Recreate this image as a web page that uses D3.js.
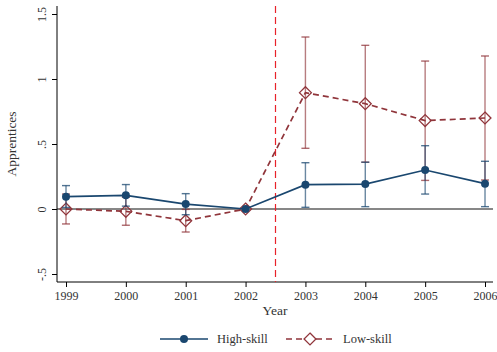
<!DOCTYPE html>
<html lang="en">
<head>
<meta charset="UTF-8">
<title>Apprentices</title>
<script src="https://d3js.org/d3.v7.min.js"></script>
<style>
    body { margin: 0; background: #fff; }
    text { font-family: "Liberation Serif", "DejaVu Serif", serif; fill: #333; }
</style>
</head>
<body>
<div id="chart"></div>
<script>
// data
const years = [1999, 2000, 2001, 2002, 2003, 2004, 2005, 2006];
const highVal = [0.095, 0.105, 0.038, 0, 0.187, 0.192, 0.30, 0.195];
const highLo  = [0.012, 0.022, -0.044, 0, 0.013, 0.018, 0.115, 0.018];
const highHi  = [0.180, 0.188, 0.118, 0, 0.356, 0.360, 0.487, 0.367];
const lowVal  = [0, -0.018, -0.09, 0, 0.895, 0.81, 0.68, 0.70];
const lowLo   = [-0.115, -0.125, -0.177, 0, 0.467, 0.36, 0.22, 0.223];
const lowHi   = [0.115, 0.09, -0.003, 0, 1.323, 1.259, 1.138, 1.177];
const yTicks = [-0.5, 0, 0.5, 1, 1.5];
const yTickLabels = ["-.5", "0", ".5", "1", "1.5"];
const treatYear = 2002.5;

const W = 497, H = 352;
const navy = "#1a476f", maroon = "#90353b";

const svg = d3.select("#chart").append("svg")
    .attr("width", W).attr("height", H);

const x = d3.scaleLinear().domain([1999, 2006]).range([66, 485]);
const y = d3.scaleLinear().domain([-0.5, 1.5]).range([274, 14]);

const pLeft = 57, pRight = 493, pTop = 6, pBottom = 282;

// axes
const gx = svg.append("g").attr("transform", `translate(0,${pBottom})`)
    .call(d3.axisBottom(x).tickValues(years).tickFormat(d3.format("d")).tickSize(5).tickSizeOuter(0));
gx.select(".domain").attr("d", `M${pLeft},0H${pRight}`).attr("stroke", "#000");
gx.selectAll("text").attr("font-size", 12).attr("dy", "0.85em");

const gy = svg.append("g").attr("transform", `translate(${pLeft},0)`)
    .call(d3.axisLeft(y).tickValues(yTicks).tickFormat((d, i) => yTickLabels[i]).tickSize(5).tickSizeOuter(0));
gy.select(".domain").attr("d", `M0,${pTop}V${pBottom}`).attr("stroke", "#000");
gy.selectAll(".tick text")
    .attr("font-size", 12)
    .attr("x", 0).attr("dy", 0)
    .attr("text-anchor", "middle")
    .attr("transform", "translate(-11,0) rotate(-90)");

// axis titles
svg.append("text").attr("x", (pLeft + pRight) / 2).attr("y", 315)
    .attr("text-anchor", "middle").attr("font-size", 13.5).text("Year");
svg.append("text").attr("transform", `translate(16,${(pTop + pBottom) / 2}) rotate(-90)`)
    .attr("text-anchor", "middle").attr("font-size", 13.5).text("Apprentices");

// zero line
svg.append("line").attr("x1", pLeft).attr("x2", pRight)
    .attr("y1", y(0)).attr("y2", y(0))
    .attr("stroke", "#111").attr("stroke-width", 1.1);

// treatment line
svg.append("line").attr("x1", x(treatYear)).attr("x2", x(treatYear))
    .attr("y1", pTop).attr("y2", pBottom)
    .attr("stroke", "#e8222a").attr("stroke-width", 1.2)
    .attr("stroke-dasharray", "7,4");

function drawSeries(vals, lo, hi, color, dashed, marker) {
    const data = years.map((yr, i) => ({ yr, v: vals[i], lo: lo[i], hi: hi[i] }));
    const bars = data.filter(d => d.hi !== d.lo);
    const g = svg.append("g");
    // error bars
    g.selectAll(".eb").data(bars).enter().append("line")
        .attr("x1", d => x(d.yr)).attr("x2", d => x(d.yr))
        .attr("y1", d => y(d.lo)).attr("y2", d => y(d.hi))
        .attr("stroke", color).attr("stroke-opacity", 0.65).attr("stroke-width", 1.4);
    ["lo", "hi"].forEach(k => {
        g.selectAll(".cap" + k).data(bars).enter().append("line")
            .attr("x1", d => x(d.yr) - 4).attr("x2", d => x(d.yr) + 4)
            .attr("y1", d => y(d[k])).attr("y2", d => y(d[k]))
            .attr("stroke", color).attr("stroke-opacity", 0.75).attr("stroke-width", 1.4);
    });
    // connecting line
    g.append("path").datum(data)
        .attr("d", d3.line().x(d => x(d.yr)).y(d => y(d.v)))
        .attr("fill", "none").attr("stroke", color).attr("stroke-width", 1.7)
        .attr("stroke-dasharray", dashed ? "6,4" : null);
    // markers
    if (marker === "circle") {
        g.selectAll(".m").data(data).enter().append("circle")
            .attr("cx", d => x(d.yr)).attr("cy", d => y(d.v)).attr("r", 4)
            .attr("fill", color);
    } else {
        g.selectAll(".m").data(data).enter().append("path")
            .attr("d", d3.symbol(d3.symbolDiamond2, 90))
            .attr("transform", d => `translate(${x(d.yr)},${y(d.v)})`)
            .attr("fill", "none").attr("stroke", color).attr("stroke-width", 1.3);
    }
}

drawSeries(lowVal, lowLo, lowHi, maroon, true, "diamond");
drawSeries(highVal, highLo, highHi, navy, false, "circle");

// legend
const legend = [
    { name: "High-skill", color: navy, dashed: false, marker: "circle", x0: 160 },
    { name: "Low-skill", color: maroon, dashed: true, marker: "diamond", x0: 286 }
];
const ly = 339;
legend.forEach(l => {
    const g = svg.append("g");
    g.append("line").attr("x1", l.x0).attr("x2", l.x0 + 48).attr("y1", ly).attr("y2", ly)
        .attr("stroke", l.color).attr("stroke-width", 1.7)
        .attr("stroke-dasharray", l.dashed ? "6,4" : null);
    if (l.marker === "circle") {
        g.append("circle").attr("cx", l.x0 + 24).attr("cy", ly).attr("r", 4).attr("fill", l.color);
    } else {
        g.append("path").attr("d", d3.symbol(d3.symbolDiamond2, 90))
            .attr("transform", `translate(${l.x0 + 24},${ly})`)
            .attr("fill", "#fff").attr("stroke", l.color).attr("stroke-width", 1.3);
    }
    g.append("text").attr("x", l.x0 + 57).attr("y", ly).attr("dy", "0.35em")
        .attr("font-size", 12.5).text(l.name);
});
</script>
</body>
</html>
